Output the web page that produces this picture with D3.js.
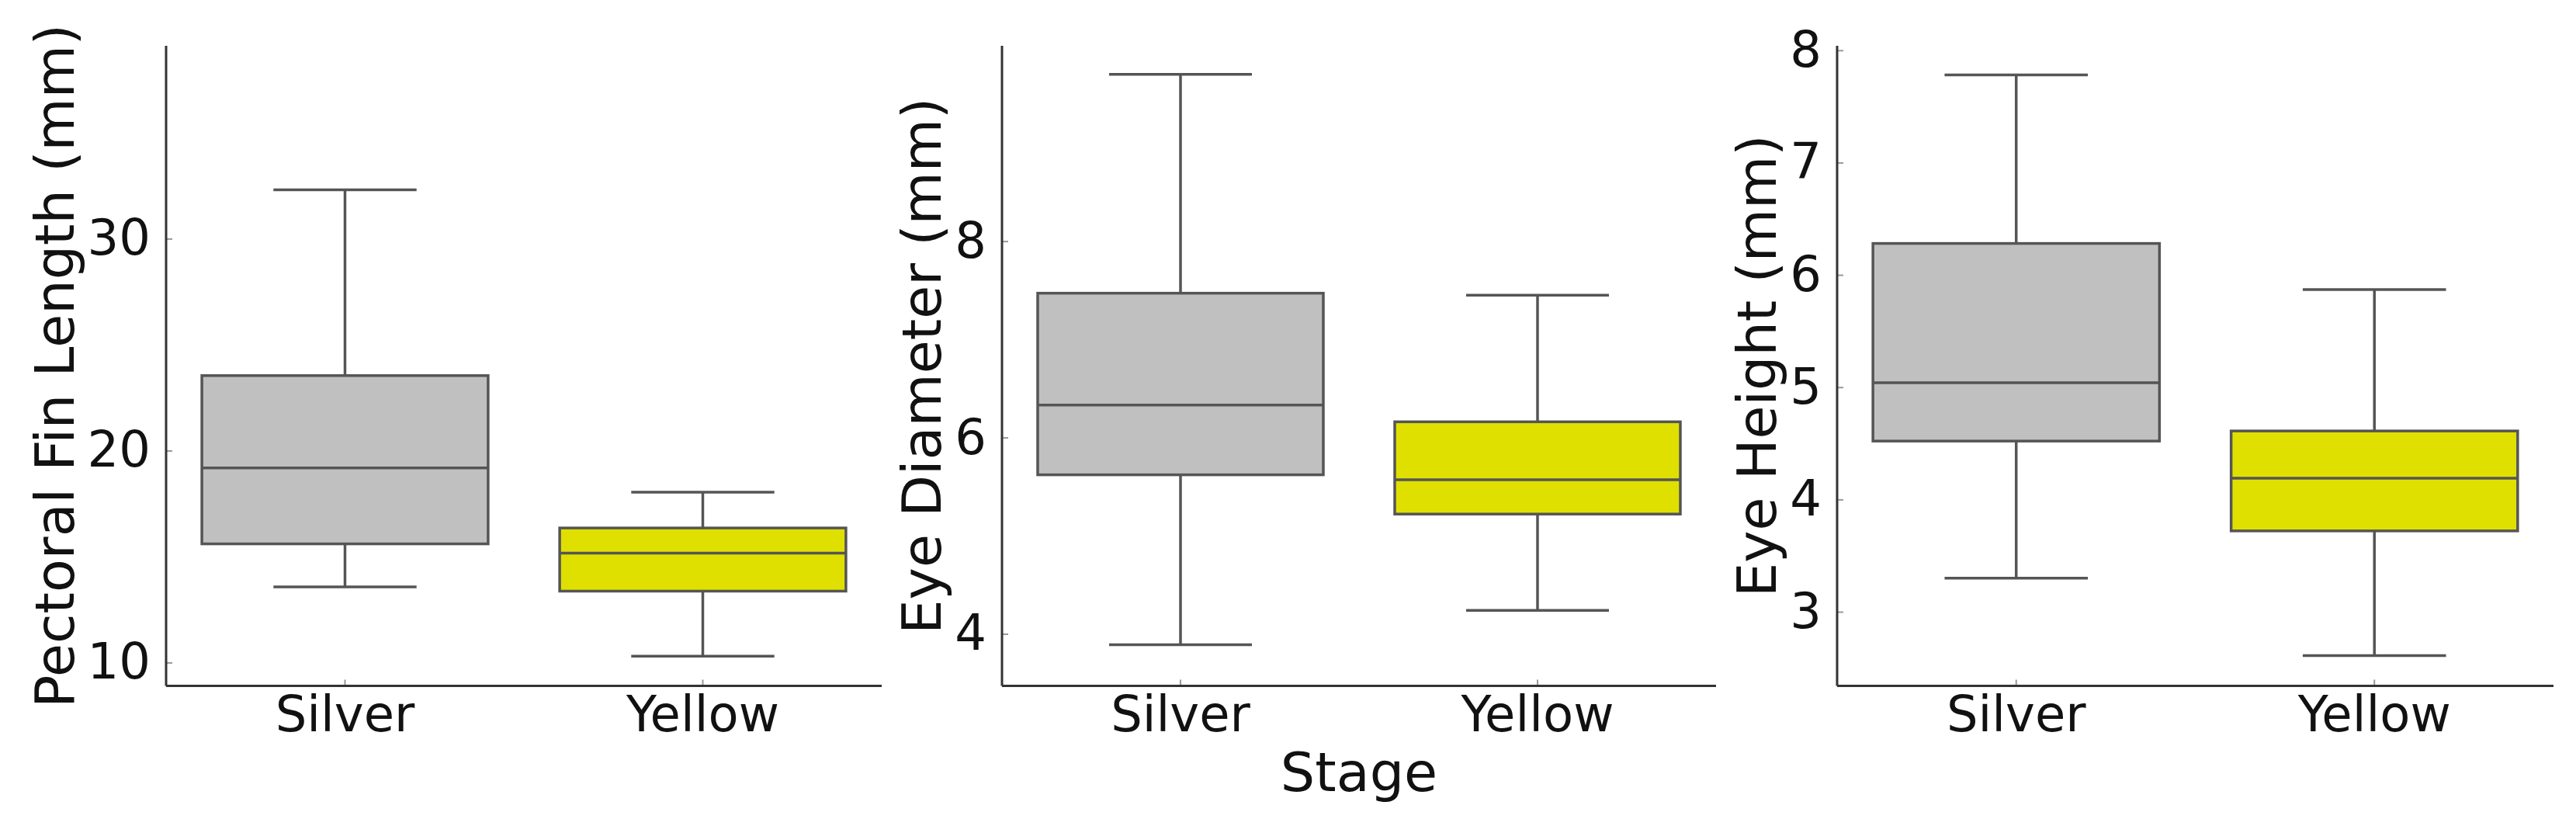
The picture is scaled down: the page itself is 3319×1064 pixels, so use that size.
<!DOCTYPE html>
<html>
<head>
<meta charset="utf-8">
<script src="https://cdn.jsdelivr.net/npm/d3@7"></script>
<style>
  body { margin: 0; background: #fff; }
  svg text { font-family: "DejaVu Sans", sans-serif; fill: #111; }
</style>
</head>
<body>
<svg id="chart" width="3319" height="1064"></svg>
<script>
// categories on the x axis
var stages = ["Silver", "Yellow"];
var stage_colors = ["#c0c0c0", "#e0e000"];

// box stats: [whisker low, q1, median, q3, whisker high] for Silver, Yellow
var fin_length = [[13.57, 15.60, 19.18, 23.54, 32.31], [10.30, 13.37, 15.16, 16.35, 18.04]];
var eye_diameter = [[3.89, 5.62, 6.33, 7.47, 9.70], [4.24, 5.22, 5.57, 6.16, 7.45]];
var eye_height = [[3.30, 4.52, 5.04, 6.28, 7.78], [2.61, 3.72, 4.19, 4.61, 5.87]];

// y domains and ticks
var fin_domain = [8.9, 39.1];
var diam_domain = [3.47, 9.99];
var height_domain = [2.34, 8.04];
var fin_ticks = [10, 20, 30];
var diam_ticks = [4, 6, 8];
var height_ticks = [3, 4, 5, 6, 7, 8];

var y_labels = ["Pectoral Fin Length (mm)", "Eye Diameter (mm)", "Eye Height (mm)"];

var panels = [
  {stats: fin_length, domain: fin_domain, ticks: fin_ticks, label: y_labels[0], x0: 214, x1: 1136},
  {stats: eye_diameter, domain: diam_domain, ticks: diam_ticks, label: y_labels[1], x0: 1291, x1: 2211},
  {stats: eye_height, domain: height_domain, ticks: height_ticks, label: y_labels[2], x0: 2367, x1: 3290}
];

var top_y = 59, bottom_y = 883.5;
var line_color = "#555";
var svg = d3.select("#chart");

panels.forEach(function(p, idx){
  var g = svg.append("g").attr("transform", "translate(" + p.x0 + ",0)");
  var w = p.x1 - p.x0;

  var x = d3.scaleBand().domain(stages).range([0, w]).paddingInner(0.2).paddingOuter(0.1);
  var y = d3.scaleLinear().domain(p.domain).range([bottom_y, top_y]);

  // boxes
  var box = g.selectAll("g.box")
      .data(p.stats)
      .enter().append("g")
      .attr("class", "box");

  box.append("line")
      .attr("x1", function(d, i){ return x(stages[i]) + x.bandwidth() / 2; })
      .attr("x2", function(d, i){ return x(stages[i]) + x.bandwidth() / 2; })
      .attr("y1", function(d){ return y(d[0]); })
      .attr("y2", function(d){ return y(d[1]); })
      .attr("stroke", line_color).attr("stroke-width", 3.5);
  box.append("line")
      .attr("x1", function(d, i){ return x(stages[i]) + x.bandwidth() / 2; })
      .attr("x2", function(d, i){ return x(stages[i]) + x.bandwidth() / 2; })
      .attr("y1", function(d){ return y(d[3]); })
      .attr("y2", function(d){ return y(d[4]); })
      .attr("stroke", line_color).attr("stroke-width", 3.5);
  // caps
  [0, 4].forEach(function(k){
    box.append("line")
        .attr("x1", function(d, i){ return x(stages[i]) + x.bandwidth() / 4; })
        .attr("x2", function(d, i){ return x(stages[i]) + x.bandwidth() * 3 / 4; })
        .attr("y1", function(d){ return y(d[k]); })
        .attr("y2", function(d){ return y(d[k]); })
        .attr("stroke", line_color).attr("stroke-width", 3.5);
  });
  box.append("rect")
      .attr("x", function(d, i){ return x(stages[i]); })
      .attr("width", x.bandwidth())
      .attr("y", function(d){ return y(d[3]); })
      .attr("height", function(d){ return y(d[1]) - y(d[3]); })
      .attr("fill", function(d, i){ return stage_colors[i]; })
      .attr("stroke", line_color).attr("stroke-width", 3.5);
  box.append("line")
      .attr("x1", function(d, i){ return x(stages[i]); })
      .attr("x2", function(d, i){ return x(stages[i]) + x.bandwidth(); })
      .attr("y1", function(d){ return y(d[2]); })
      .attr("y2", function(d){ return y(d[2]); })
      .attr("stroke", line_color).attr("stroke-width", 3.5);

  // y axis, ticks point inward
  var yAxis = g.append("g")
      .call(d3.axisLeft(y).tickValues(p.ticks).tickFormat(d3.format("d"))
        .tickSizeInner(-8).tickSizeOuter(0).tickPadding(20));
  yAxis.select(".domain").remove();
  yAxis.selectAll(".tick line").attr("stroke", "#999").attr("stroke-width", 2);
  yAxis.selectAll(".tick text").attr("font-size", 64).attr("font-family", "DejaVu Sans").attr("fill", "#111");

  // x axis
  var xAxis = g.append("g")
      .attr("transform", "translate(0," + bottom_y + ")")
      .call(d3.axisBottom(x).tickSizeInner(-8).tickSizeOuter(0).tickPadding(0));
  xAxis.select(".domain").remove();
  xAxis.selectAll(".tick line").attr("stroke", "#999").attr("stroke-width", 2);
  xAxis.selectAll(".tick text")
      .attr("font-size", 64).attr("font-family", "DejaVu Sans").attr("fill", "#111")
      .attr("dy", null).attr("y", 58);

  // spines
  g.append("line").attr("x1", 0).attr("x2", 0).attr("y1", top_y).attr("y2", bottom_y)
      .attr("stroke", "#333").attr("stroke-width", 3);
  g.append("line").attr("x1", 0).attr("x2", w).attr("y1", bottom_y).attr("y2", bottom_y)
      .attr("stroke", "#333").attr("stroke-width", 3);

  // y label placed left of the tick labels
  var tick_left = d3.min(yAxis.selectAll(".tick text").nodes(), function(n){ return n.getBBox().x; });
  g.append("text")
      .attr("transform", "translate(" + (tick_left - 18) + "," + ((top_y + bottom_y) / 2) + ") rotate(-90)")
      .attr("text-anchor", "middle")
      .attr("font-size", 70)
      .text(p.label);

  if(idx === 1){
    g.append("text")
        .attr("x", w / 2)
        .attr("y", 1019)
        .attr("text-anchor", "middle")
        .attr("font-size", 70)
        .text("Stage");
  }
});
</script>
</body>
</html>
